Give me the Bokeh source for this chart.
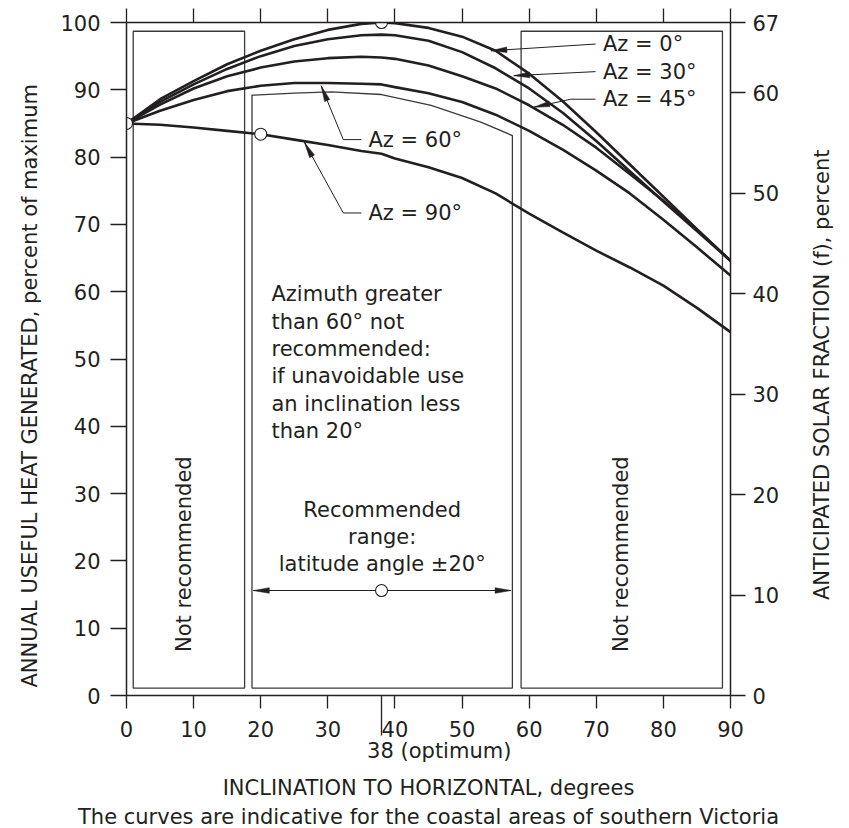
import math
from bokeh.plotting import figure
from bokeh.models import LinearAxis, Range1d, FixedTicker, Label, Title, CustomJSTickFormatter
from bokeh.embed import file_html
from bokeh.resources import INLINE

INK = "#231f20"
BOX = "#3a3a3a"
FONT = "DejaVu Sans"
FS = "21px"

# ---------------- data ----------------
inclination = [0, 5, 10, 15, 20, 25, 30, 35, 38, 40, 45, 50, 55, 60, 65, 70, 75, 80, 85, 90]
az_0 = [85.0, 88.6, 91.3, 93.8, 95.8, 97.5, 98.9, 99.8, 100.0, 99.9, 99.2, 97.9, 95.8, 92.4, 88.3, 83.7, 78.9, 74.1, 69.3, 64.6]
az_30 = [85.0, 88.2, 90.8, 93.1, 95.0, 96.5, 97.5, 98.1, 98.2, 98.1, 97.3, 95.6, 93.2, 90.2, 86.6, 82.4, 77.9, 73.4, 69.0, 64.6]
az_45 = [85.0, 87.8, 90.2, 92.0, 93.3, 94.2, 94.7, 94.9, 94.8, 94.6, 93.6, 92.0, 90.2, 87.7, 84.8, 81.4, 77.5, 73.5, 69.2, 64.6]
az_60 = [85.0, 86.9, 88.5, 89.8, 90.6, 91.0, 91.0, 90.9, 90.8, 90.4, 89.5, 88.2, 86.3, 83.9, 81.1, 78.0, 74.6, 70.7, 66.6, 62.4]
az_90 = [85.0, 84.8, 84.4, 83.9, 83.4, 82.6, 81.8, 80.9, 80.5, 79.8, 78.5, 76.9, 74.6, 71.6, 68.8, 66.1, 63.6, 60.9, 57.6, 54.0]
curve_labels = ["Az = 0°", "Az = 30°", "Az = 45°", "Az = 60°", "Az = 90°"]

x_ticks = [0, 10, 20, 30, 40, 50, 60, 70, 80, 90]
y_ticks = [0, 10, 20, 30, 40, 50, 60, 70, 80, 90, 100]
fraction_ticks = [0, 10, 20, 30, 40, 50, 60, 67]
optimum = 38

# marked points (open circles)
marker_x = [0, 38, 20, 38]
marker_y = [85.0, 100.0, 83.4, 15.6]

# zones
left_zone_x = [1.0, 17.6]
right_zone_x = [58.8, 88.8]
zone_y = [1.1, 98.7]
rec_top_x = [18.7, 25.0, 30.5, 38.0, 45.4, 52.8, 57.5]
rec_top_y = [89.2, 89.5, 89.7, 89.3, 87.7, 85.2, 83.2]
range_arrow_x = [18.9, 57.3]
range_arrow_y = 15.6

# leader lines for the curve labels
label_x = [71.0, 71.0, 71.0, 36.05, 36.05]
label_y = [96.8, 92.7, 88.6, 82.6, 71.7]
leader_start_x = [69.9, 69.9, 69.9, 35.0, 35.0]
leader_bend_x = [69.9, 69.9, 66.2, 32.3, 32.3]
leader_tip_x = [54.3, 57.7, 60.7, 29.0, 26.5]
leader_tip_y = [95.8, 92.1, 87.4, 90.6, 82.2]

azimuth_note = ["Azimuth greater", "than 60° not", "recommended:",
                "if unavoidable use", "an inclination less", "than 20°"]
range_note = ["Recommended", "range:", "latitude angle ±20°"]

# ---------------- figure ----------------
W, H = 849, 828
ML, MR, MT, MB = 125, 119, 22, 133
SX = (W - ML - MR) / 90.0
SY = (H - MT - MB) / 100.0

p = figure(width=W, height=H, x_range=Range1d(0, 90), y_range=Range1d(0, 100),
           output_backend="svg", toolbar_location=None,
           x_axis_location=None, y_axis_location=None,
           min_border_left=ML, min_border_right=MR, min_border_top=MT, min_border_bottom=MB)
p.outline_line_color = None
p.xgrid.visible = False
p.ygrid.visible = False
p.background_fill_color = "white"
p.border_fill_color = "white"
p.extra_y_ranges = {"sf": Range1d(0, 67)}


def style(ax, out, standoff):
    ax.major_tick_out = out
    ax.major_tick_in = 0
    ax.minor_tick_line_color = None
    ax.axis_line_color = INK
    ax.axis_line_width = 1.5
    ax.major_tick_line_color = INK
    ax.major_tick_line_width = 1.3
    ax.major_label_text_font = FONT
    ax.major_label_text_font_size = FS
    ax.major_label_text_color = INK
    ax.major_label_standoff = standoff
    ax.axis_label_text_font = FONT
    ax.axis_label_text_font_size = FS
    ax.axis_label_text_font_style = "normal"
    ax.axis_label_text_color = INK


left = LinearAxis(ticker=FixedTicker(ticks=y_ticks))
style(left, 16, 10)
p.add_layout(left, "left")

right = LinearAxis(y_range_name="sf", ticker=FixedTicker(ticks=fraction_ticks))
style(right, 15, 7)
p.add_layout(right, "right")

# right-hand title: drawn as the single (rotated) label of a bare axis,
# anchored where the text starts so that it reads bottom-to-top
right_title_start = 9.5
right_title = LinearAxis(y_range_name="sf", ticker=FixedTicker(ticks=[right_title_start]))
style(right_title, 0, 40)
right_title.axis_line_color = None
right_title.major_tick_line_color = None
right_title.major_label_overrides = {right_title_start: "ANTICIPATED SOLAR FRACTION (f), percent"}
right_title.major_label_orientation = math.pi / 2
p.add_layout(right_title, "right")

bottom = LinearAxis(ticker=FixedTicker(ticks=x_ticks, minor_ticks=[optimum]))
style(bottom, 13, -15)
bottom.minor_tick_line_color = INK
bottom.minor_tick_line_width = 1.3
bottom.minor_tick_in = 0
bottom.minor_tick_out = 40
p.add_layout(bottom, "below")

# second bottom axis: carries "38 (optimum)" and the axis title
optimum_label_pos = 46.6
below2 = LinearAxis(ticker=FixedTicker(ticks=[optimum_label_pos]))
style(below2, 0, -1)
below2.axis_line_color = None
below2.major_tick_line_color = None
below2.major_label_overrides = {optimum_label_pos: "38 (optimum)"}
below2.axis_label = "INCLINATION TO HORIZONTAL, degrees"
below2.axis_label_standoff = 10
p.add_layout(below2, "below")

top = LinearAxis(ticker=FixedTicker(ticks=x_ticks), formatter=CustomJSTickFormatter(code="return ''"))
style(top, 14, 0)
p.add_layout(top, "above")

p.add_layout(Title(text="The curves are indicative for the coastal areas of southern Victoria",
                   align="center", text_font=FONT, text_font_size=FS, text_font_style="normal",
                   text_color=INK, standoff=0), "below")
p.add_layout(Title(text="ANNUAL USEFUL HEAT GENERATED, percent of maximum",
                   align="left", offset=8, text_font=FONT, text_font_size=FS,
                   text_font_style="normal", text_color=INK, standoff=31), "left")

# zones
box_xs = [
    [left_zone_x[0], left_zone_x[1], left_zone_x[1], left_zone_x[0]],
    [rec_top_x[0], rec_top_x[-1]] + rec_top_x[::-1],
    [right_zone_x[0], right_zone_x[1], right_zone_x[1], right_zone_x[0]],
]
box_ys = [
    [zone_y[0], zone_y[0], zone_y[1], zone_y[1]],
    [zone_y[0], zone_y[0]] + rec_top_y[::-1],
    [zone_y[0], zone_y[0], zone_y[1], zone_y[1]],
]
p.patches(box_xs, box_ys, fill_color=None, line_color=BOX, line_width=1.3)

# curves
for series in [az_0, az_30, az_45, az_60, az_90]:
    p.line(inclination, series, line_color=INK, line_width=2.6)


def head(tx, ty, fx, fy, length=16, half=2.8):
    dx = (tx - fx) * SX
    dy = (ty - fy) * SY
    d = math.hypot(dx, dy)
    ux, uy = dx / d, dy / d
    bx, by = tx * SX - ux * length, ty * SY - uy * length
    nx, ny = -uy, ux
    pts = [(tx * SX, ty * SY), (bx + nx * half, by + ny * half), (bx - nx * half, by - ny * half)]
    return [q[0] / SX for q in pts], [q[1] / SY for q in pts]


# leaders
lx, ly, hx, hy = [], [], [], []
for i in range(len(curve_labels)):
    lx.append([leader_start_x[i], leader_bend_x[i], leader_tip_x[i]])
    ly.append([label_y[i], label_y[i], leader_tip_y[i]])
    a, b = head(leader_tip_x[i], leader_tip_y[i], leader_bend_x[i], label_y[i])
    hx.append(a)
    hy.append(b)
    p.add_layout(Label(x=label_x[i], y=label_y[i], text=curve_labels[i], text_font=FONT,
                       text_font_size=FS, text_color=INK, text_align="left",
                       text_baseline="middle"))
p.multi_line(lx, ly, line_color=INK, line_width=1.0)

# range arrow
p.line(range_arrow_x, [range_arrow_y, range_arrow_y], line_color=INK, line_width=1.0)
for end in range_arrow_x:
    a, b = head(end, range_arrow_y, optimum, range_arrow_y)
    hx.append(a)
    hy.append(b)
p.patches(hx, hy, fill_color=INK, line_color=INK, line_width=0.5)

p.scatter(marker_x, marker_y, size=12, marker="circle", fill_color="white",
          line_color=INK, line_width=1.1)

# notes
step_a = 4.06
for i, t in enumerate(azimuth_note):
    p.add_layout(Label(x=21.6, y=59.6 - i * step_a, text=t, text_font=FONT, text_font_size=FS,
                       text_color=INK, text_align="left", text_baseline="middle"))
step_r = 3.96
for i, t in enumerate(range_note):
    p.add_layout(Label(x=38.1, y=27.5 - i * step_r, text=t, text_font=FONT, text_font_size=FS,
                       text_color=INK, text_align="center", text_baseline="middle"))
for cx in [8.6, 73.7]:
    p.add_layout(Label(x=cx, y=21.0, text="Not recommended", angle=math.pi / 2,
                       text_font=FONT, text_font_size=FS, text_color=INK,
                       text_align="center", text_baseline="middle"))

open("out.html", "w").write(file_html(p, INLINE))
